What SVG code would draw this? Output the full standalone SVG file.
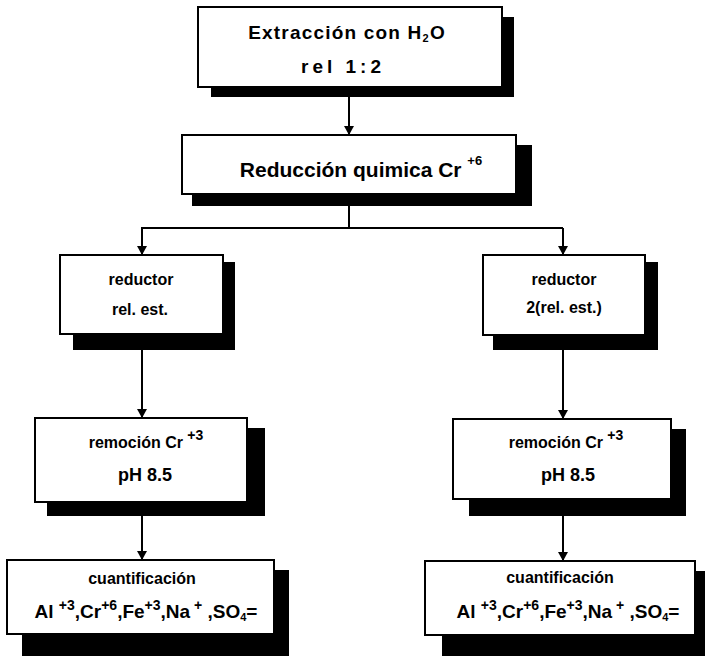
<svg xmlns="http://www.w3.org/2000/svg" width="705" height="656" viewBox="0 0 705 656">
<defs>
<style>
.sh{fill:#000}
.bx{fill:#fff;stroke:#000;stroke-width:2}
text{font-family:"Liberation Sans","DejaVu Sans",sans-serif;font-weight:bold;fill:#000;text-anchor:middle}
.cn{fill:none;stroke:#000;stroke-width:2}
</style>
<marker id="ah" markerUnits="userSpaceOnUse" markerWidth="9" markerHeight="10" refX="9" refY="5" orient="auto">
<path d="M0,0 L9,5 L0,10 z" fill="#000"/>
</marker>
</defs>
<rect width="705" height="656" fill="#fff"/>

<g id="connectors">
<path class="cn" d="M349,97 V135" marker-end="url(#ah)"/>
<path class="cn" d="M349,206 V228"/>
<path class="cn" d="M141,228 H563"/>
<path class="cn" d="M142,228 V255" marker-end="url(#ah)"/>
<path class="cn" d="M563,228 V255" marker-end="url(#ah)"/>
<path class="cn" d="M142,350 V418" marker-end="url(#ah)"/>
<path class="cn" d="M142,516 V560" marker-end="url(#ah)"/>
<path class="cn" d="M563,350 V419" marker-end="url(#ah)"/>
<path class="cn" d="M563,516 V561" marker-end="url(#ah)"/>
</g>

<g id="extraccion">
<rect class="sh" x="211" y="17" width="303" height="80"/>
<rect class="bx" x="198" y="7" width="304" height="80"/>
<text x="347" y="39" font-size="19" letter-spacing="1.2">Extracción con H<tspan font-size="11" dy="3">2</tspan><tspan dy="-3">O</tspan></text>
<text x="343" y="73" font-size="19" letter-spacing="4">rel 1:2</text>
</g>

<g id="reduccion">
<rect class="sh" x="192" y="145" width="340" height="61"/>
<rect class="bx" x="182" y="135" width="334" height="59"/>
<text x="361" y="177" font-size="21">Reducción quimica Cr <tspan font-size="13" dy="-12">+6</tspan></text>
</g>

<g id="reductor1">
<rect class="sh" x="73" y="262" width="162" height="88"/>
<rect class="bx" x="60" y="255" width="163" height="79"/>
<text x="141" y="285" font-size="16">reductor</text>
<text x="140" y="315" font-size="16">rel. est.</text>
</g>

<g id="reductor2">
<rect class="sh" x="493" y="262" width="165" height="88"/>
<rect class="bx" x="483" y="255" width="162" height="80"/>
<text x="564" y="285" font-size="16">reductor</text>
<text x="564" y="313" font-size="16">2(rel. est.)</text>
</g>

<g id="remocion1">
<rect class="sh" x="47" y="428" width="218" height="88"/>
<rect class="bx" x="35" y="418" width="212" height="84"/>
<text x="146" y="448" font-size="16">remoción Cr <tspan font-size="14" dy="-8">+3</tspan></text>
<text x="145" y="481" font-size="18">pH 8.5</text>
</g>

<g id="remocion2">
<rect class="sh" x="469" y="429" width="217" height="87"/>
<rect class="bx" x="453" y="419" width="218" height="80"/>
<text x="566" y="448" font-size="16">remoción Cr <tspan font-size="14" dy="-8">+3</tspan></text>
<text x="568" y="481" font-size="18">pH 8.5</text>
</g>

<g id="cuantificacion1">
<rect class="sh" x="22" y="570" width="267" height="86"/>
<rect class="bx" x="7" y="560" width="267" height="74"/>
<text x="142" y="584" font-size="16">cuantificación</text>
<text x="146" y="618" font-size="19">Al <tspan font-size="14" dy="-8">+3</tspan><tspan dy="8">,Cr</tspan><tspan font-size="14" dy="-8">+6</tspan><tspan dy="8">,Fe</tspan><tspan font-size="14" dy="-8">+3</tspan><tspan dy="8">,Na</tspan><tspan font-size="14" dy="-8"> +</tspan><tspan dy="8">  ,SO</tspan><tspan font-size="11" dy="3">4</tspan><tspan dy="-3">=</tspan></text>
</g>

<g id="cuantificacion2">
<rect class="sh" x="442" y="571" width="263" height="85"/>
<rect class="bx" x="425" y="561" width="270" height="74"/>
<text x="560" y="583" font-size="16">cuantificación</text>
<text x="568" y="618" font-size="19">Al <tspan font-size="14" dy="-8">+3</tspan><tspan dy="8">,Cr</tspan><tspan font-size="14" dy="-8">+6</tspan><tspan dy="8">,Fe</tspan><tspan font-size="14" dy="-8">+3</tspan><tspan dy="8">,Na</tspan><tspan font-size="14" dy="-8"> +</tspan><tspan dy="8">  ,SO</tspan><tspan font-size="11" dy="3">4</tspan><tspan dy="-3">=</tspan></text>
</g>
</svg>
